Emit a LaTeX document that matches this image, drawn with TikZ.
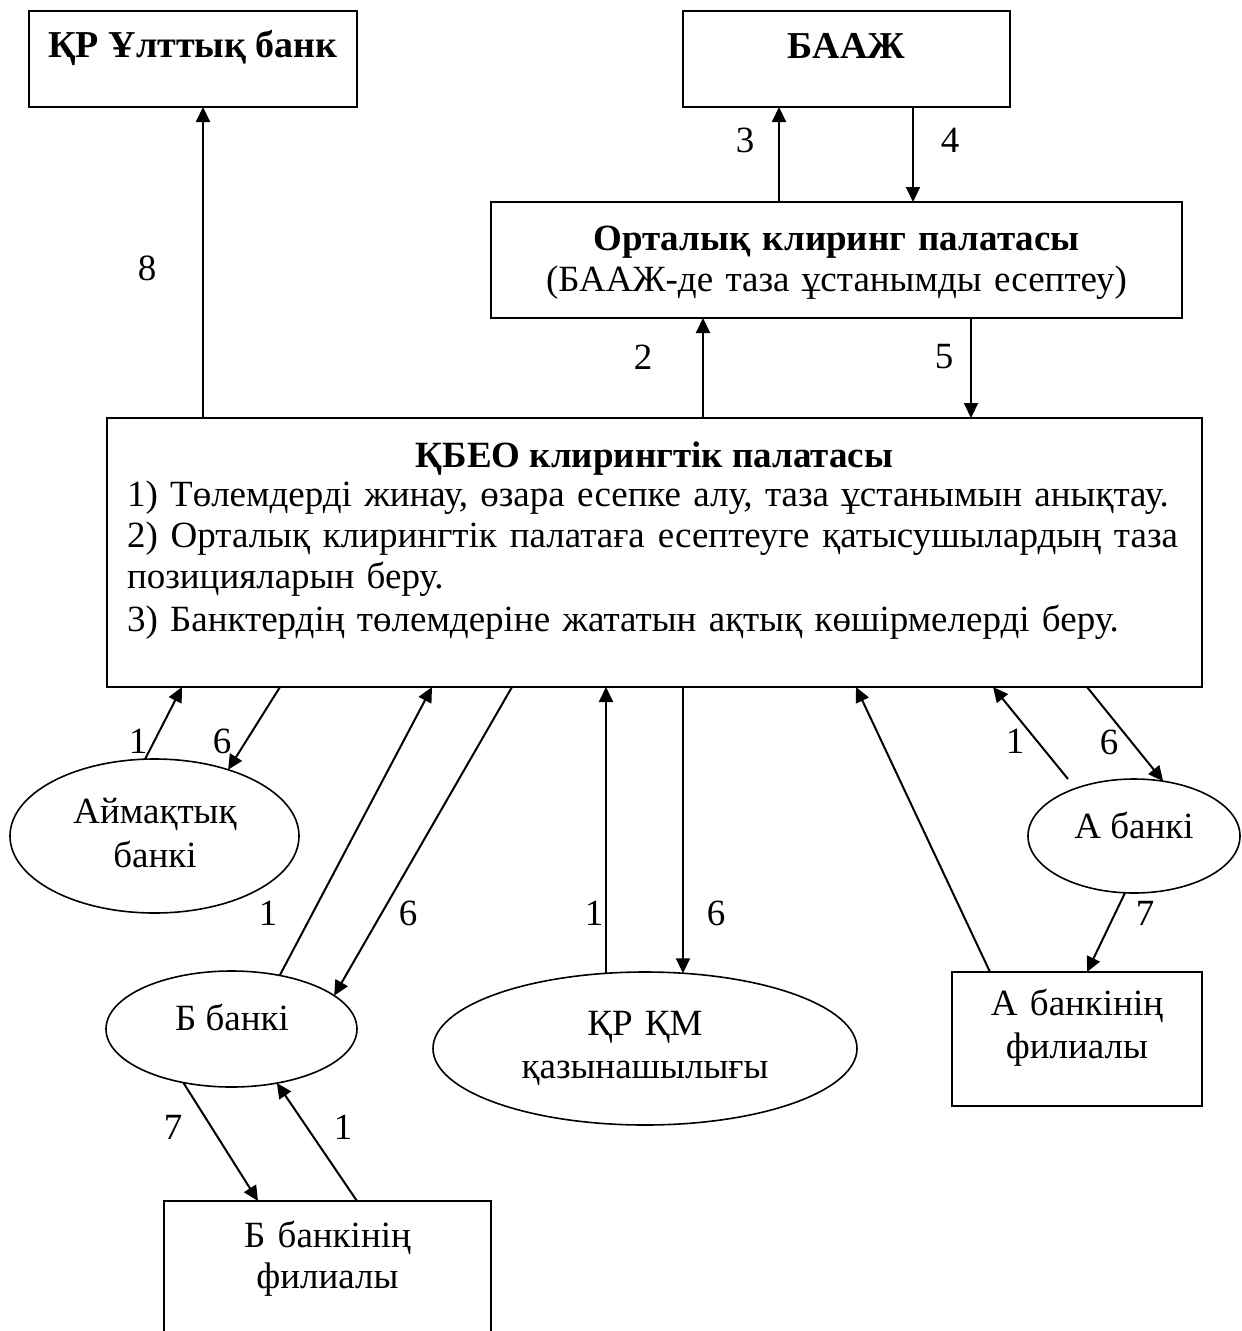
\documentclass[tikz,border=0pt]{standalone}
\usepackage{fontspec}
\setmainfont{Liberation Serif}
\usetikzlibrary{arrows.meta,shapes.geometric}
\newcommand{\txtbody}{\fontsize{37pt}{41pt}\selectfont}
\newcommand{\txthead}{\fontsize{38pt}{44pt}\selectfont\bfseries}
\newcommand{\txtpair}{\fontsize{37pt}{43pt}\selectfont}
\begin{document}
\begin{tikzpicture}[x=1pt,y=-1pt,
  box/.style={draw, line width=2pt, rectangle, inner sep=0pt, outer sep=0pt},
  oval/.style={draw, line width=1.6pt, ellipse, inner sep=0pt, outer sep=0pt},
  txt/.style={inner sep=0pt, outer sep=0pt, font=\txtbody},
  num/.style={inner sep=0pt, font=\txtbody},
  flow/.style={line width=2pt, -{Triangle[length=15pt,width=14pt]}}]
\useasboundingbox (0,0) rectangle (1242,1331);
\clip (0,0) rectangle (1242,1331);

% top row
\node[box, minimum width=328pt, minimum height=96pt] (nb) at (193,59) {};
\node[txt, font=\txthead, anchor=base] (nbT) at (193,57) {ҚР Ұлттық банк};
\node[box, minimum width=327pt, minimum height=96pt] (baaj) at (846.5,59) {};
\node[txt, font=\txthead, anchor=base] (baajT) at (846.5,58) {БААЖ};

% central clearing house
\node[box, minimum width=691pt, minimum height=116pt] (okp) at (836.5,260) {};
\node[txt, anchor=base, text width=691pt, align=center,
      font=\fontsize{37pt}{41pt}\selectfont] (okpT) at (836.5,250)
  {\textbf{Орталық клиринг палатасы}\\(БААЖ-де таза ұстанымды есептеу)};

% main clearing house
\node[box, minimum width=1095pt, minimum height=269pt] (main) at (654.5,552.5) {};
\node[txt, anchor=base, font=\txtbody\bfseries] (mainT) at (654.5,467) {ҚБЕО клирингтік палатасы};
\node[txt, anchor=base west, text width=1060pt, align=left] (mainL) at (127,506)
  {1) Төлемдерді жинау, өзара есепке алу, таза ұстанымын анықтау.\\
   \leavevmode\hbox to 1051pt{\spaceskip=0pt plus 1fil 2) Орталық клирингтік палатаға есептеуге қатысушылардың таза}\\
   позицияларын беру.\\[2pt]
   3) Банктердің төлемдеріне жататын ақтық көшірмелерді беру.};

% participants
\node[oval, minimum width=289pt, minimum height=154pt] (aim) at (154.5,836) {};
\node[txt, anchor=base, text width=289pt, align=center, font=\fontsize{37pt}{44pt}\selectfont] (aimT) at (155,823) {Аймақтық\\банкі};

\node[oval, minimum width=251pt, minimum height=116pt] (bb) at (231.5,1029) {};
\node[txt, anchor=base] (bbT) at (232,1030) {Б банкі};

\node[oval, minimum width=424pt, minimum height=153pt] (kaz) at (645,1048.5) {};
\node[txt, anchor=base, text width=424pt, align=center, font=\txtpair] (kazT) at (645,1035) {ҚР ҚМ\\қазынашылығы};

\node[oval, minimum width=212pt, minimum height=114pt] (ab) at (1134,836) {};
\node[txt, anchor=base] (abT) at (1134,838) {А банкі};

\node[box, minimum width=250pt, minimum height=134pt] (afil) at (1077,1039) {};
\node[txt, anchor=base, text width=250pt, align=center, font=\txtpair] (afilT) at (1077,1015) {А банкінің\\филиалы};

\node[box, minimum width=327pt, minimum height=160pt] (bfil) at (327.5,1281) {};
\node[txt, anchor=base, text width=327pt, align=center, font=\fontsize{37pt}{41pt}\selectfont] (bfilT) at (327.5,1247) {Б банкінің\\филиалы};

% flows between the upper boxes
\draw[flow] ([xshift=96pt]main.north west) -- ([xshift=174pt]nb.south west);
\draw[flow] ([xshift=288pt]okp.north west) -- ([xshift=96pt]baaj.south west);
\draw[flow] ([xshift=230pt]baaj.south west) -- ([xshift=422pt]okp.north west);
\draw[flow] ([xshift=596pt]main.north west) -- ([xshift=212pt]okp.south west);
\draw[flow] ([xshift=480pt]okp.south west) -- ([xshift=864pt]main.north west);

% flows to and from the participants
\draw[flow] (aim.97) -- ([xshift=75pt]main.south west);
\draw[flow] ([xshift=173pt]main.south west) -- (aim.42);
\draw[flow] (bb.48) -- ([xshift=325pt]main.south west);
\draw[flow] ([xshift=405pt]main.south west) -- (bb.18);
\coordinate (k1top) at ([xshift=499pt]main.south west);
\coordinate (k6top) at ([xshift=576pt]main.south west);
\draw[flow] (kaz.117 -| k1top) -- (k1top);
\draw[flow] (k6top) -- (kaz.63 -| k6top);
\draw[flow] ([xshift=38pt]afil.north west) -- ([xshift=749pt]main.south west);
\coordinate (abTail) at (1068,779);
\draw[flow] (abTail) -- ([xshift=886pt]main.south west);
\draw[flow] ([xshift=980pt]main.south west) -- (ab.62);
\draw[flow] (ab.261) -- ([xshift=135pt]afil.north west);
\draw[flow] (bb.228) -- ([xshift=94pt]bfil.north west);
\draw[flow] ([xshift=193pt]bfil.north west) -- (bb.310);

% step numbers
\node[num] (n8) at (147,268) {8};
\node[num] (n3) at (745,140) {3};
\node[num] (n4) at (950,140) {4};
\node[num] (n2) at (643,357) {2};
\node[num] (n5) at (944,357) {5};
\node[num] (nA1) at (138,741) {1};
\node[num] (nA6) at (222,741) {6};
\node[num] (nB1) at (268,913) {1};
\node[num] (nB6) at (408,913) {6};
\node[num] (nK1) at (594,913) {1};
\node[num] (nK6) at (716,913) {6};
\node[num] (nC1) at (1015,741) {1};
\node[num] (nC6) at (1109,742) {6};
\node[num] (nC7) at (1145,913) {7};
\node[num] (nD7) at (173,1127) {7};
\node[num] (nD1) at (343,1127) {1};
\end{tikzpicture}
\end{document}
